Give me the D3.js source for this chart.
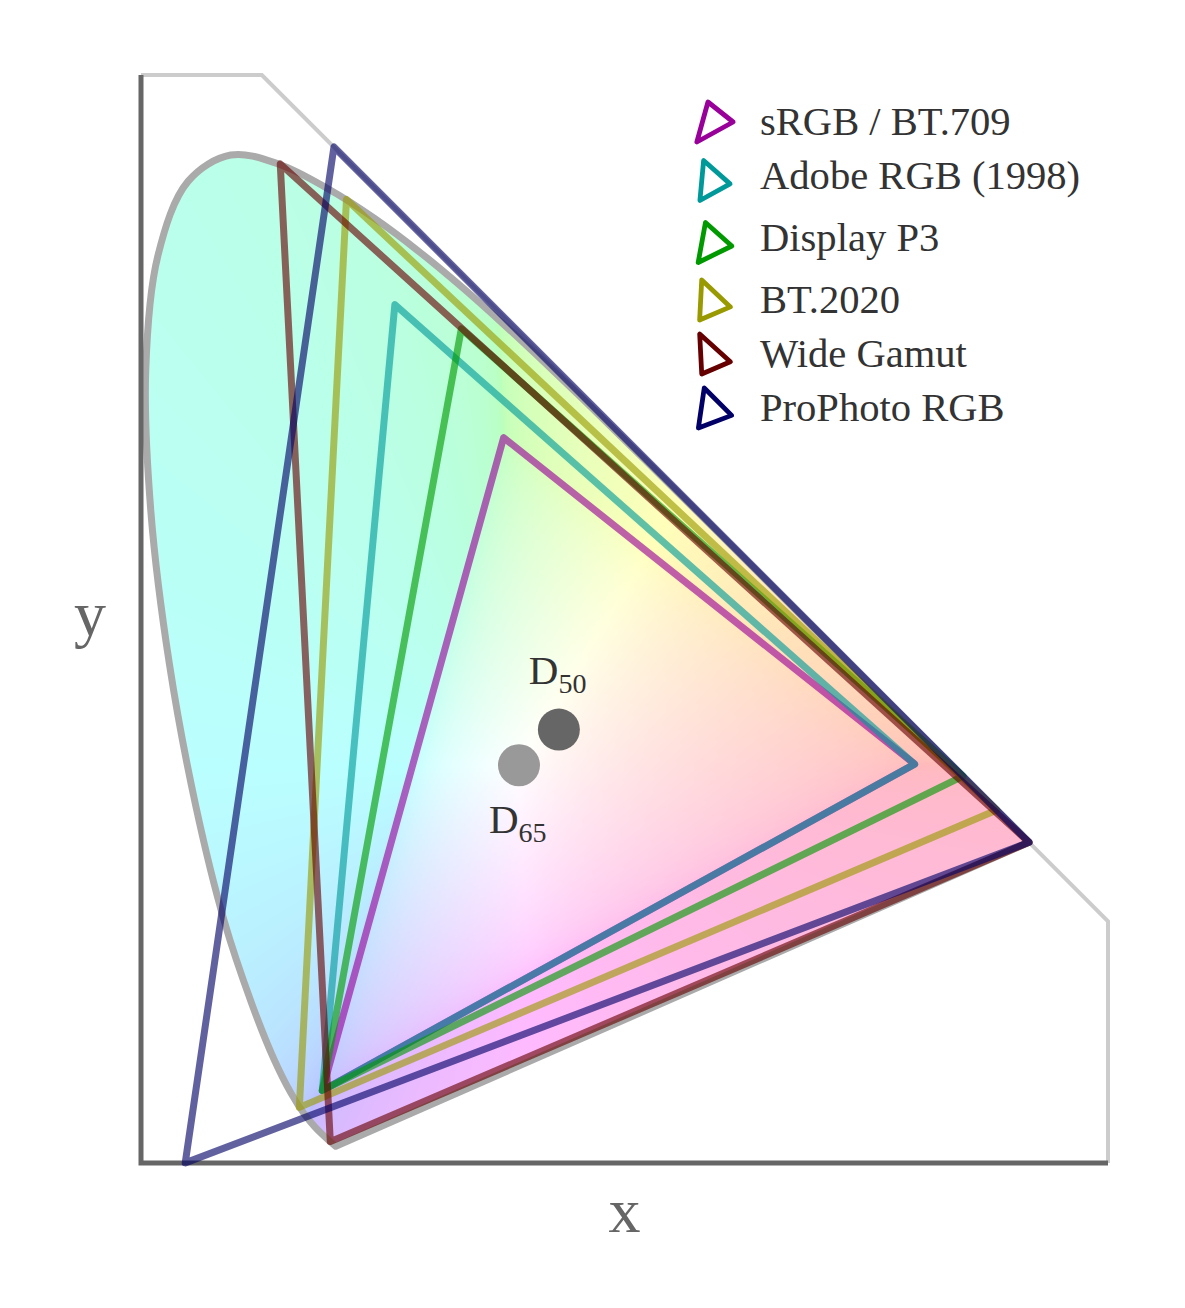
<!DOCTYPE html>
<html><head><meta charset="utf-8">
<script src="https://cdn.jsdelivr.net/npm/d3@7"></script>
<style>body{margin:0;background:#fff}</style>
</head><body>
<svg id="chart" width="1185" height="1308"></svg>
<script>
// CIE 1931 2° spectral locus (nm, x, y)
const wavelengths = [445,450,455,460,465,470,475,480,485,490,495,500,505,510,515,520,525,530,535,540,545,550,555,560,565,570,575,580,585,590,595,600,605,610,615,620,625,630,635,640,645,650,655,660,670,680,700];
const locusX = [0.1611,0.1566,0.1510,0.1440,0.1355,0.1241,0.1096,0.0913,0.0687,0.0454,0.0235,0.0082,0.0039,0.0139,0.0389,0.0743,0.1142,0.1547,0.1929,0.2296,0.2658,0.3016,0.3373,0.3731,0.4087,0.4441,0.4788,0.5125,0.5448,0.5752,0.6029,0.6270,0.6482,0.6658,0.6801,0.6915,0.7006,0.7079,0.7140,0.7190,0.7230,0.7260,0.7283,0.7300,0.7320,0.7334,0.7347];
const locusY = [0.0138,0.0177,0.0227,0.0297,0.0399,0.0578,0.0868,0.1327,0.2007,0.2950,0.4127,0.5384,0.6548,0.7502,0.8120,0.8338,0.8262,0.8059,0.7816,0.7543,0.7243,0.6923,0.6589,0.6245,0.5896,0.5547,0.5202,0.4866,0.4544,0.4242,0.3965,0.3725,0.3514,0.3340,0.3197,0.3083,0.2993,0.2920,0.2859,0.2809,0.2770,0.2740,0.2717,0.2700,0.2680,0.2666,0.2653];

// Gamuts
const gamutNames  = ["sRGB / BT.709","Adobe RGB (1998)","Display P3","BT.2020","Wide Gamut","ProPhoto RGB"];
const gamutColors = ["#990099","#009999","#009900","#999900","#660000","#000066"];
const gamutRx = [0.64, 0.64, 0.68, 0.708, 0.7347, 0.7347];
const gamutRy = [0.33, 0.33, 0.32, 0.292, 0.2653, 0.2653];
const gamutGx = [0.30, 0.21, 0.265, 0.170, 0.1152, 0.1596];
const gamutGy = [0.60, 0.71, 0.69, 0.797, 0.8264, 0.8404];
const gamutBx = [0.15, 0.15, 0.15, 0.131, 0.1566, 0.0366];
const gamutBy = [0.06, 0.06, 0.06, 0.046, 0.0177, 0.0001];

// White points
const whiteNames = ["D","D"];
const whiteSubs  = ["50","65"];
const whiteX = [0.3457, 0.3127];
const whiteY = [0.3585, 0.3290];
const whiteFill = ["#666666","#999999"];

const axisLabels = ["x","y"];
const xDomain = [0, 0.8];
const yDomain = [0, 0.9];

const svg = d3.select("#chart");
const xS = d3.scaleLinear().domain(xDomain).range([141, 1108]);
const yS = d3.scaleLinear().domain(yDomain).range([1163, 75]);

const locus = locusX.map((v,i)=>[v, locusY[i]]);
const line = d3.line().x(d=>xS(d[0])).y(d=>yS(d[1]));
const closedLine = d3.line().x(d=>xS(d[0])).y(d=>yS(d[1])).curve(d3.curveLinearClosed);
const smoothOpen = d3.line().x(d=>xS(d[0])).y(d=>yS(d[1])).curve(d3.curveCatmullRom.alpha(0.5));
const locusPath = smoothOpen(locus) + "Z";

// light frame (x + y = 1 boundary)
svg.append("path")
  .attr("d", line([[0,0.9],[0.1,0.9],[0.8,0.2],[0.8,0]]))
  .attr("fill","none").attr("stroke","#cccccc").attr("stroke-width",4);

// chromaticity fill image
const px0 = xS(xDomain[0]), px1 = xS(xDomain[1]), py0 = yS(yDomain[1]), py1 = yS(yDomain[0]);
const cw = Math.round(px1-px0), ch = Math.round(py1-py0);
const canvas = document.createElement("canvas");
canvas.width = cw; canvas.height = ch;
const ctx = canvas.getContext("2d");
const img = ctx.createImageData(cw, ch);
const alpha = 0.27;
const gam = c => c <= 0.0031308 ? 12.92*c : 1.055*Math.pow(c,1/2.4)-0.055;
for (let j=0;j<ch;j++){
  const cy = yS.invert(py0+j+0.5);
  for (let i=0;i<cw;i++){
    const cx = xS.invert(px0+i+0.5);
    const k = 4*(j*cw+i);
    if (cy <= 0.0005) { img.data[k]=255;img.data[k+1]=255;img.data[k+2]=255;img.data[k+3]=255; continue; }
    const X = cx/cy, Y = 1, Z = (1-cx-cy)/cy;
    let r = 3.2406*X - 1.5372*Y - 0.4986*Z;
    let g = -0.9689*X + 1.8758*Y + 0.0415*Z;
    let b = 0.0557*X - 0.2040*Y + 1.0570*Z;
    const m = Math.min(r,g,b);
    if (m < 0) { r-=m; g-=m; b-=m; }
    const M = Math.max(r,g,b) || 1;
    r = gam(r/M); g = gam(g/M); b = gam(b/M);
    img.data[k]   = 255*(1-alpha+alpha*r);
    img.data[k+1] = 255*(1-alpha+alpha*g);
    img.data[k+2] = 255*(1-alpha+alpha*b);
    img.data[k+3] = 255;
  }
}
ctx.putImageData(img,0,0);

svg.append("clipPath").attr("id","locusClip")
  .append("path").attr("d", locusPath);
svg.append("image")
  .attr("x",px0).attr("y",py0).attr("width",cw).attr("height",ch)
  .attr("href", canvas.toDataURL())
  .attr("clip-path","url(#locusClip)")
  .attr("preserveAspectRatio","none");

// locus outline
svg.append("path").attr("d", locusPath)
  .attr("fill","none").attr("stroke","#aaaaaa").attr("stroke-width",7)
  .attr("stroke-linejoin","round");

// axes
svg.append("path").attr("d", line([[0,0.9],[0,0],[0.8,0]]))
  .attr("fill","none").attr("stroke","#666666").attr("stroke-width",5);

// gamut triangles
const gamuts = gamutNames.map((n,i)=>({
  name:n, color:gamutColors[i],
  pts:[[gamutRx[i],gamutRy[i]],[gamutGx[i],gamutGy[i]],[gamutBx[i],gamutBy[i]]]
}));
svg.append("g").selectAll("path").data(gamuts).join("path")
  .attr("d", d=>closedLine(d.pts))
  .attr("fill","none").attr("stroke", d=>d.color)
  .attr("stroke-opacity",0.62).attr("stroke-width",7)
  .attr("stroke-linejoin","round");

// white points
const whites = whiteNames.map((n,i)=>({n, sub:whiteSubs[i], x:whiteX[i], y:whiteY[i], fill:whiteFill[i]}));
svg.append("g").selectAll("circle").data(whites).join("circle")
  .attr("cx", d=>xS(d.x)).attr("cy", d=>yS(d.y)).attr("r",21)
  .attr("fill", d=>d.fill);
const labelDy = [-46, 68];
whites.forEach((d,i)=>{
  const t = svg.append("text")
    .attr("x", xS(d.x)-30).attr("y", yS(d.y)+labelDy[i])
    .attr("font-family","'Liberation Serif', serif").attr("fill","#333")
    .attr("font-size",41);
  t.append("tspan").text(d.n);
  t.append("tspan").attr("dy",9).attr("font-size",28).text(d.sub);
});

// legend
const desc = /[()pyqgj]/;
let base = 135;
gamuts.forEach((d,i)=>{
  if (i>0) base += 54 + (desc.test(gamuts[i-1].name) ? 8 : 0);
  const cyM = base - 13 + (desc.test(d.name) ? 4.5 : 0);
  const xs = d.pts.map(p=>p[0]), ys = d.pts.map(p=>p[1]);
  const mx = (d3.min(xs)+d3.max(xs))/2, my = (d3.min(ys)+d3.max(ys))/2;
  const s = 40/Math.max(d3.max(xs)-d3.min(xs), d3.max(ys)-d3.min(ys));
  const pts = d.pts.map(p=>[715+(p[0]-mx)*s, cyM-(p[1]-my)*s]);
  svg.append("path").attr("d", d3.line().curve(d3.curveLinearClosed)(pts))
    .attr("fill","none").attr("stroke",d.color).attr("stroke-width",4.8)
    .attr("stroke-linejoin","round");
  svg.append("text").attr("x",760).attr("y",base)
    .attr("font-family","'Liberation Serif', serif").attr("font-size",40.6)
    .attr("fill","#333").text(d.name);
});

// axis labels
svg.append("text").attr("x",(xS(0)+xS(0.8))/2).attr("y",1232)
  .attr("text-anchor","middle").attr("font-family","'Liberation Serif', serif")
  .attr("font-size",64).attr("fill","#666").text(axisLabels[0]);
svg.append("text").attr("x",90).attr("y",(yS(0)+yS(0.9))/2+16)
  .attr("text-anchor","middle").attr("font-family","'Liberation Serif', serif")
  .attr("font-size",64).attr("fill","#666").text(axisLabels[1]);
</script>
</body></html>
